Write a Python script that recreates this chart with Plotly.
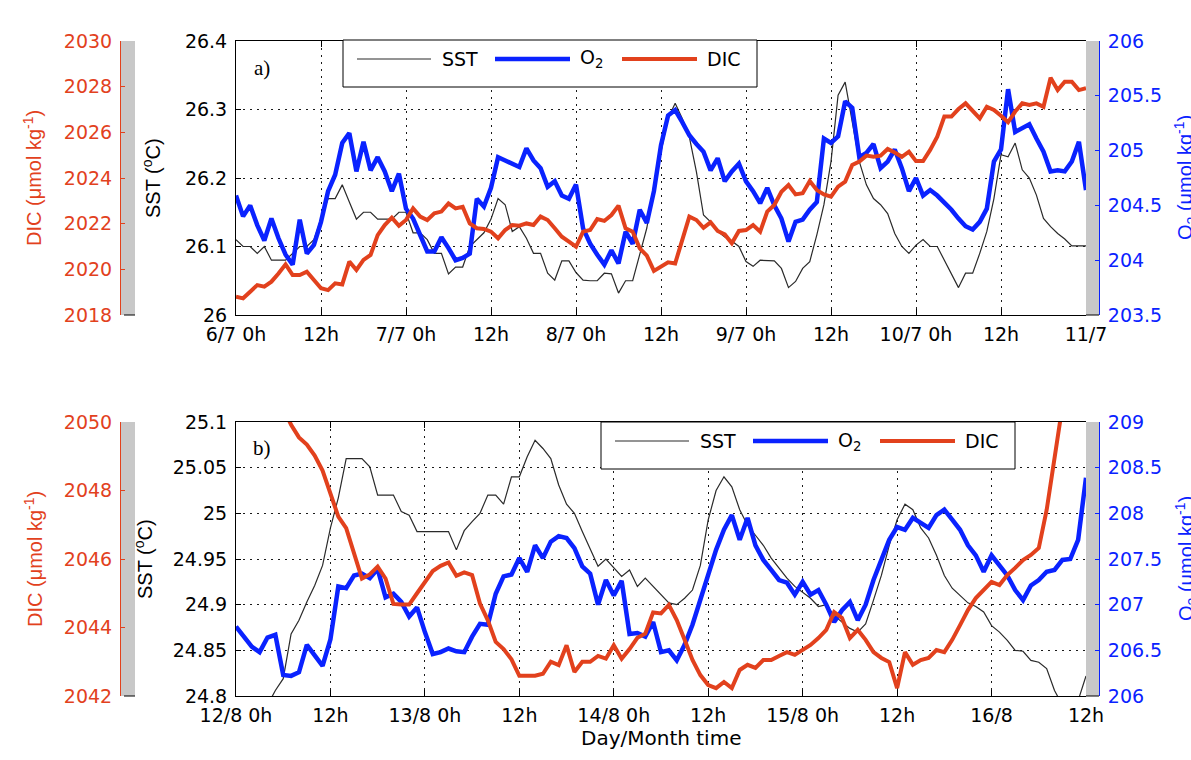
import plotly.graph_objects as go

W, H = 1191, 760

# ---------------- data ----------------
hours_a = list(range(121))   # hourly, 6/7 0h .. 11/7 0h
hours_b = list(range(109))   # hourly, 12/8 0h .. 16/8 12h

sst_a = [26.110, 26.100, 26.100, 26.090, 26.100, 26.080, 26.080, 26.080, 26.090, 26.100,
         26.100, 26.110, 26.140, 26.170, 26.170, 26.190, 26.165, 26.140, 26.150, 26.150,
         26.140, 26.140, 26.140, 26.150, 26.150, 26.120, 26.120, 26.110, 26.090, 26.090,
         26.060, 26.070, 26.070, 26.100, 26.110, 26.120, 26.140, 26.170, 26.161, 26.122,
         26.129, 26.112, 26.090, 26.090, 26.061, 26.051, 26.079, 26.079, 26.062, 26.051,
         26.050, 26.050, 26.061, 26.060, 26.032, 26.050, 26.050, 26.088, 26.127, 26.190,
         26.238, 26.287, 26.309, 26.287, 26.260, 26.209, 26.146, 26.136, 26.122, 26.114,
         26.108, 26.100, 26.078, 26.071, 26.080, 26.079, 26.079, 26.068, 26.040, 26.049,
         26.068, 26.078, 26.117, 26.161, 26.224, 26.321, 26.340, 26.282, 26.224, 26.190,
         26.170, 26.161, 26.148, 26.119, 26.100, 26.090, 26.102, 26.110, 26.100, 26.100,
         26.080, 26.061, 26.040, 26.061, 26.061, 26.090, 26.122, 26.170, 26.234, 26.231,
         26.251, 26.212, 26.200, 26.175, 26.141, 26.129, 26.119, 26.111, 26.101, 26.101,
         26.101]

o2_a = [204.59, 204.40, 204.50, 204.32, 204.18, 204.38, 204.20, 204.05, 203.96, 204.37,
        204.06, 204.14, 204.35, 204.63, 204.78, 205.07, 205.16, 204.81, 205.08, 204.82,
        204.94, 204.81, 204.63, 204.79, 204.47, 204.38, 204.23, 204.08, 204.08, 204.21,
        204.11, 204.00, 204.02, 204.06, 204.56, 204.49, 204.66, 204.94, 204.91, 204.88,
        204.85, 205.02, 204.91, 204.84, 204.67, 204.72, 204.59, 204.56, 204.69, 204.29,
        204.15, 204.05, 203.96, 204.09, 203.97, 204.26, 204.15, 204.46, 204.34, 204.63,
        205.05, 205.32, 205.37, 205.26, 205.14, 205.06, 204.99, 204.82, 204.93, 204.72,
        204.81, 204.88, 204.72, 204.63, 204.52, 204.66, 204.50, 204.38, 204.17, 204.35,
        204.37, 204.46, 204.53, 205.11, 205.07, 205.13, 205.45, 205.39, 204.94, 204.98,
        205.06, 204.84, 204.90, 205.01, 204.84, 204.63, 204.75, 204.59, 204.64, 204.59,
        204.53, 204.46, 204.38, 204.31, 204.28, 204.35, 204.47, 204.90, 205.01, 205.56,
        205.17, 205.20, 205.24, 205.11, 204.99, 204.81, 204.82, 204.81, 204.90, 205.08,
        204.64]

dic_a = [2018.80, 2018.73, 2019.02, 2019.31, 2019.24, 2019.46, 2019.82, 2020.22, 2019.75, 2019.75,
         2019.90, 2019.53, 2019.17, 2019.09, 2019.39, 2019.34, 2020.34, 2019.97, 2020.41, 2020.63,
         2021.50, 2021.94, 2022.26, 2021.91, 2022.16, 2022.67, 2022.31, 2022.16, 2022.45, 2022.53,
         2022.89, 2022.67, 2022.74, 2022.01, 2021.80, 2021.77, 2021.65, 2021.36, 2021.72, 2021.94,
         2021.91, 2022.01, 2021.94, 2022.31, 2022.16, 2021.80, 2021.43, 2021.21, 2020.99, 2021.65,
         2021.72, 2022.20, 2022.12, 2022.38, 2022.79, 2021.80, 2021.65, 2020.92, 2020.60, 2019.93,
         2020.12, 2020.31, 2020.26, 2021.36, 2022.31, 2022.16, 2021.82, 2022.06, 2021.68, 2021.53,
         2021.14, 2021.68, 2021.72, 2021.94, 2021.65, 2022.53, 2022.82, 2023.40, 2023.69, 2023.28,
         2023.33, 2023.87, 2023.47, 2023.28, 2023.18, 2023.62, 2023.84, 2024.57, 2024.72, 2024.98,
         2024.93, 2024.98, 2025.27, 2025.12, 2024.93, 2025.15, 2024.74, 2024.74, 2025.23, 2025.81,
         2026.69, 2026.69, 2027.02, 2027.27, 2026.93, 2026.61, 2027.12, 2026.98, 2026.73, 2026.44,
         2026.91, 2027.27, 2027.20, 2027.27, 2027.12, 2028.39, 2027.85, 2028.22, 2028.22, 2027.85,
         2027.93]

sst_b = [24.720, 24.740, 24.750, 24.770, 24.790, 24.806, 24.819, 24.868, 24.883, 24.903,
         24.921, 24.943, 24.984, 25.017, 25.060, 25.060, 25.060, 25.051, 25.020, 25.020,
         25.020, 25.002, 24.998, 24.980, 24.980, 24.980, 24.980, 24.980, 24.960, 24.981,
         24.991, 25.000, 25.020, 25.020, 25.010, 25.040, 25.040, 25.062, 25.080, 25.071,
         25.060, 25.031, 25.010, 25.000, 24.980, 24.960, 24.942, 24.950, 24.940, 24.931,
         24.938, 24.920, 24.929, 24.920, 24.910, 24.902, 24.900, 24.907, 24.916, 24.943,
         24.993, 25.025, 25.040, 25.029, 25.004, 24.987, 24.976, 24.965, 24.951, 24.940,
         24.929, 24.920, 24.914, 24.907, 24.898, 24.900, 24.888, 24.881, 24.874, 24.870,
         24.879, 24.905, 24.932, 24.965, 24.993, 25.010, 25.004, 24.984, 24.973, 24.954,
         24.932, 24.918, 24.910, 24.902, 24.898, 24.892, 24.877, 24.870, 24.861, 24.850,
         24.849, 24.839, 24.837, 24.830, 24.806, 24.790, 24.790, 24.795, 24.822]

o2_b = [206.76, 206.65, 206.54, 206.48, 206.64, 206.67, 206.23, 206.22, 206.26, 206.56,
        206.45, 206.33, 206.62, 207.20, 207.18, 207.32, 207.34, 207.29, 207.39, 207.08,
        207.12, 207.03, 206.87, 206.97, 206.70, 206.46, 206.48, 206.52, 206.49, 206.48,
        206.65, 206.79, 206.78, 207.12, 207.31, 207.33, 207.51, 207.36, 207.65, 207.51,
        207.69, 207.75, 207.73, 207.62, 207.42, 207.34, 207.00, 207.27, 207.10, 207.26,
        206.68, 206.69, 206.65, 206.81, 206.48, 206.50, 206.39, 206.56, 206.78, 207.05,
        207.36, 207.60, 207.82, 207.98, 207.71, 207.95, 207.65, 207.49, 207.38, 207.27,
        207.24, 207.11, 207.25, 207.11, 207.16, 207.00, 206.81, 206.94, 207.03, 206.83,
        207.00, 207.27, 207.49, 207.71, 207.85, 207.82, 207.95, 207.90, 207.84, 207.98,
        208.04, 207.93, 207.82, 207.65, 207.54, 207.36, 207.54, 207.43, 207.32, 207.16,
        207.05, 207.21, 207.27, 207.36, 207.38, 207.49, 207.50, 207.71, 208.39]

dic_b = [2053.50, 2053.00, 2052.50, 2052.00, 2051.40, 2050.90, 2050.40, 2049.92, 2049.55, 2049.34,
         2049.02, 2048.58, 2047.92, 2047.24, 2046.90, 2046.17, 2045.43, 2045.55, 2045.78, 2045.43,
         2044.69, 2044.67, 2044.67, 2045.00, 2045.34, 2045.65, 2045.80, 2045.90, 2045.51, 2045.61,
         2045.53, 2044.70, 2044.21, 2043.58, 2043.37, 2043.07, 2042.59, 2042.59, 2042.59, 2042.65,
         2043.00, 2042.90, 2043.48, 2042.70, 2043.00, 2043.00, 2043.17, 2043.09, 2043.48, 2043.09,
         2043.37, 2043.70, 2043.82, 2044.44, 2044.41, 2044.66, 2044.22, 2043.64, 2043.05, 2042.61,
         2042.32, 2042.23, 2042.41, 2042.23, 2042.76, 2042.91, 2042.82, 2043.05, 2043.05, 2043.17,
         2043.28, 2043.20, 2043.34, 2043.49, 2043.69, 2043.93, 2044.45, 2044.28, 2043.69, 2043.93,
         2043.64, 2043.28, 2043.11, 2042.99, 2042.23, 2043.28, 2042.91, 2043.05, 2043.11, 2043.34,
         2043.28, 2043.64, 2044.07, 2044.51, 2044.86, 2045.09, 2045.33, 2045.24, 2045.53, 2045.74,
         2045.97, 2046.12, 2046.32, 2047.43, 2049.04, 2050.80, 2052.20, 2053.60, 2055.00]

xtick_hours_a = [0, 12, 24, 36, 48, 60, 72, 84, 96, 108, 120]
xtick_text_a = ["6/7 0h", "12h", "7/7 0h", "12h", "8/7 0h", "12h", "9/7 0h", "12h",
                "10/7 0h", "12h", "11/7"]
xtick_hours_b = [0, 12, 24, 36, 48, 60, 72, 84, 96, 108]
xtick_text_b = ["12/8 0h", "12h", "13/8 0h", "12h", "14/8 0h", "12h", "15/8 0h", "12h",
                "16/8", "12h"]

sst_ticks_a = [26.0, 26.1, 26.2, 26.3, 26.4]
sst_text_a = ["26", "26.1", "26.2", "26.3", "26.4"]
sst_ticks_b = [24.8, 24.85, 24.9, 24.95, 25.0, 25.05, 25.1]
sst_text_b = ["24.8", "24.85", "24.9", "24.95", "25", "25.05", "25.1"]
o2_ticks_a = [203.5, 204.0, 204.5, 205.0, 205.5, 206.0]
o2_text_a = ["203.5", "204", "204.5", "205", "205.5", "206"]
o2_ticks_b = [206.0, 206.5, 207.0, 207.5, 208.0, 208.5, 209.0]
o2_text_b = ["206", "206.5", "207", "207.5", "208", "208.5", "209"]
dic_ticks_a = [2018, 2020, 2022, 2024, 2026, 2028, 2030]
dic_ticks_b = [2042, 2044, 2046, 2048, 2050]

series_names = ["SST", "O<sub>2</sub>", "DIC"]

# ---------------- style ----------------
SST_C = "#2a2a2a"
O2_C = "#0a22ff"
DIC_C = "#e2411d"
GRAY = "#c8c8c8"
TICK_FONT = "DejaVu Sans"
TITLE_FONT = "Liberation Sans"


def px(x):
    return x / W


def py(y):
    return 1 - y / H


XD = [px(236), px(1086)]
YA = [py(315), py(41)]
YB = [py(696), py(422)]
DIC_POS = px(120)
O2_POS = px(1099)

fig = go.Figure()
line_w = [1.2, 4.5, 4.0]
colors = [SST_C, O2_C, DIC_C]
for xa, yids, hrs, series in [
    ("x", ["y", "y2", "y3"], hours_a, [sst_a, o2_a, dic_a]),
    ("x2", ["y4", "y5", "y6"], hours_b, [sst_b, o2_b, dic_b]),
]:
    for i in range(3):
        fig.add_trace(go.Scatter(
            x=hrs, y=series[i], xaxis=xa, yaxis=yids[i], mode="lines",
            name=series_names[i], showlegend=False, hoverinfo="skip",
            line=dict(color=colors[i], width=line_w[i])))

grid = dict(showgrid=True, gridcolor="#1a1a1a", gridwidth=1, griddash="2px,5px")


def xaxis(anchor, rng, vals, text):
    return dict(domain=XD, anchor=anchor, range=rng, tickmode="array", tickvals=vals,
                ticktext=text, ticks="inside", ticklen=6, tickcolor="black",
                showline=True, linecolor="black", linewidth=1, mirror="ticks",
                zeroline=False, automargin=False, ticklabelstandoff=2,
                tickfont=dict(family=TICK_FONT, size=19, color="black"), **grid)


def sst_axis(anchor, dom, rng, vals, text):
    return dict(domain=dom, anchor=anchor, range=rng, tickmode="array", tickvals=vals,
                ticktext=text, ticks="inside", ticklen=5, tickcolor="black",
                showline=True, linecolor="black", linewidth=1, zeroline=False,
                automargin=False, ticklabelstandoff=4,
                tickfont=dict(family=TICK_FONT, size=19, color="black"), **grid)


def side_axis(over, side, pos, rng, vals, text, color):
    return dict(overlaying=over, side=side, anchor="free", position=pos, range=rng,
                tickmode="array", tickvals=vals, ticktext=text, ticks="inside",
                ticklen=4, tickcolor=color, showline=True, linecolor=color,
                linewidth=1, showgrid=False, zeroline=False, automargin=False,
                ticklabelstandoff=4,
                tickfont=dict(family=TICK_FONT, size=19, color=color))


shapes = []
annotations = []

# gray spacer bars beside the plotting areas
for dom, ybot in [(YA, 315), (YB, 696)]:
    shapes.append(dict(type="rect", xref="paper", yref="paper", x0=px(120), x1=px(135),
                       y0=dom[0], y1=dom[1], fillcolor=GRAY, line=dict(width=0),
                       layer="below"))
    shapes.append(dict(type="rect", xref="paper", yref="paper", x0=px(1086), x1=px(1099),
                       y0=dom[0], y1=dom[1], fillcolor=GRAY, line=dict(width=0),
                       layer="below"))
    for x0, x1 in [(124, 135), (1086, 1099)]:
        shapes.append(dict(type="line", xref="paper", yref="paper", x0=px(x0), x1=px(x1),
                           y0=py(ybot), y1=py(ybot), line=dict(color="black", width=1)))


def add_legend(left, top):
    shapes.append(dict(type="rect", xref="paper", yref="paper", x0=px(left),
                       x1=px(left + 414), y0=py(top + 47), y1=py(top), fillcolor="white",
                       line=dict(color="black", width=1), layer="above"))
    ly = top + 19
    segs = [(14, 88), (152, 227), (279, 354)]
    text_x = [97, 235, 362]
    for i in range(3):
        shapes.append(dict(type="line", xref="paper", yref="paper",
                           x0=px(left + segs[i][0]), x1=px(left + segs[i][1]),
                           y0=py(ly), y1=py(ly),
                           line=dict(color=colors[i], width=line_w[i]), layer="above"))
        annotations.append(dict(xref="paper", yref="paper", x=px(left + text_x[i]),
                                y=py(ly), xanchor="left", yanchor="middle",
                                text=series_names[i], showarrow=False,
                                font=dict(family=TICK_FONT, size=19, color="black")))


add_legend(343, 40)
add_legend(601, 422)


def note(x, y, text, color="black", size=20, family=TITLE_FONT, angle=0):
    annotations.append(dict(xref="paper", yref="paper", x=px(x), y=py(y), text=text,
                            showarrow=False, textangle=angle, xanchor="center",
                            yanchor="middle", font=dict(family=family, size=size,
                                                        color=color)))


note(262, 68, "a)", family="Liberation Serif", size=21)
note(262, 448, "b)", family="Liberation Serif", size=21)
note(152, 178, "SST (<sup>o</sup>C)", angle=-90)
note(143, 559, "SST (<sup>o</sup>C)", angle=-90)
note(33, 178, "DIC (μmol kg<sup>-1</sup>)", color=DIC_C, angle=-90)
note(33, 559, "DIC (μmol kg<sup>-1</sup>)", color=DIC_C, angle=-90)
note(1186, 178, "O<sub>2</sub> (μmol kg<sup>-1</sup>)", color=O2_C, angle=-90)
note(1186, 559, "O<sub>2</sub> (μmol kg<sup>-1</sup>)", color=O2_C, angle=-90)
note(661, 738, "Day/Month time", family=TICK_FONT, size=20)

fig.update_layout(
    width=W, height=H, margin=dict(l=0, r=0, t=0, b=0),
    paper_bgcolor="white", plot_bgcolor="white", showlegend=False,
    xaxis=xaxis("y", [0, 120], xtick_hours_a, xtick_text_a),
    xaxis2=xaxis("y4", [0, 108], xtick_hours_b, xtick_text_b),
    yaxis=sst_axis("x", YA, [26.0, 26.4], sst_ticks_a, sst_text_a),
    yaxis2=side_axis("y", "right", O2_POS, [203.5, 206.0], o2_ticks_a, o2_text_a, O2_C),
    yaxis3=side_axis("y", "left", DIC_POS, [2018, 2030], dic_ticks_a,
                     [str(v) for v in dic_ticks_a], DIC_C),
    yaxis4=sst_axis("x2", YB, [24.8, 25.1], sst_ticks_b, sst_text_b),
    yaxis5=side_axis("y4", "right", O2_POS, [206.0, 209.0], o2_ticks_b, o2_text_b, O2_C),
    yaxis6=side_axis("y4", "left", DIC_POS, [2042, 2050], dic_ticks_b,
                     [str(v) for v in dic_ticks_b], DIC_C),
    shapes=shapes, annotations=annotations,
)

fig.write_html("out.html")
